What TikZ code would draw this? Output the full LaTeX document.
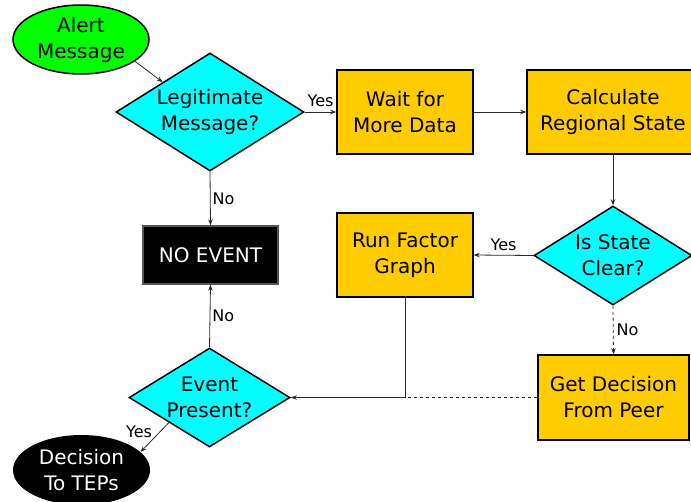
\documentclass[tikz,border=0pt]{standalone}
\usepackage{fontspec}
\setmainfont{DejaVu Sans}
\usetikzlibrary{shapes.geometric,arrows.meta}
\definecolor{procfill}{HTML}{FFCC00}
\definecolor{decfill}{HTML}{00FFFF}
\definecolor{startfill}{HTML}{00FF00}
\definecolor{linkcol}{HTML}{2A2A2A}
\definecolor{termedge}{HTML}{555555}

\begin{document}
\begin{tikzpicture}[x=1pt,y=-1pt,
  every node/.style={font=\fontsize{20}{26}\selectfont, align=center, inner sep=0pt},
  procbox/.style={rectangle, draw=black, line width=1.5pt, fill=procfill,
                  minimum width=136pt, minimum height=84pt},
  decision/.style={diamond, draw=black, line width=1.5pt, fill=decfill},
  startnode/.style={ellipse, draw=black, line width=1.5pt, fill=startfill,
                    minimum width=136pt, minimum height=69pt},
  endnode/.style={ellipse, fill=black, text=white,
                  minimum width=137pt, minimum height=70pt},
  noevent/.style={rectangle, draw=termedge, line width=1.5pt, fill=black, text=white,
                  minimum width=135pt, minimum height=58pt},
  link/.style={draw=linkcol, line width=0.8pt, -{Stealth[length=6pt,width=4.5pt]}},
  plainlink/.style={draw=linkcol, line width=0.8pt},
  lbl/.style={font=\fontsize{16}{18}\selectfont, text=black}
]
\useasboundingbox (0,0) rectangle (691,501);

% shapes
\node[startnode] (alert) at (81,39.5) {Alert\\Message};
\node[decision, minimum width=188pt, minimum height=118pt, aspect=1.6] (legit) at (210,112) {Legitimate\\Message?};
\node[procbox] (wait) at (405,112) {Wait for\\More Data};
\node[procbox, minimum width=172pt] (calc) at (613,112) {Calculate\\Regional State};
\node[decision, minimum width=158pt, minimum height=99pt, aspect=1.6] (clear) at (613,255.5) {Is State\\Clear?};
\node[procbox] (run) at (405,255) {Run Factor\\Graph};
\node[procbox, minimum width=151pt, minimum height=85pt] (peer) at (613.5,397.5) {Get Decision\\From Peer};
\node[noevent] (none) at (210.5,255) {NO EVENT};
\node[decision, minimum width=161pt, minimum height=99pt, aspect=1.63] (event) at (209.5,397.5) {Event\\Present?};
\node[endnode] (teps) at (81.5,470) {Decision\\To TEPs};

% connectors
\draw[link] (alert.-22) -- (legit.north west);
\draw[link] (legit.east) -- node[lbl, above=5pt] {Yes} (wait.west);
\draw[link] (legit.south) -- node[lbl, right=2pt] {No} (none.north);
\draw[link] (wait.east) -- (calc.west);
\draw[link] (calc.south) -- (clear.north);
\draw[link] (clear.west) -- node[lbl, above=4pt] {Yes} (run.east);
\draw[link, dashed] (clear.south) -- node[lbl, right=3pt] {No} (peer.north);
\draw[link] (run.south) |- (event.east);
\draw[plainlink, dashed] (peer.west) -- (peer.west -| run.south);
\draw[link] (event.north) -- node[lbl, right=2pt] {No} (none.south);
\draw[link] (event.south west) -- node[lbl, pos=0.3, left=8pt] {Yes} (teps.17);
\end{tikzpicture}
\end{document}
